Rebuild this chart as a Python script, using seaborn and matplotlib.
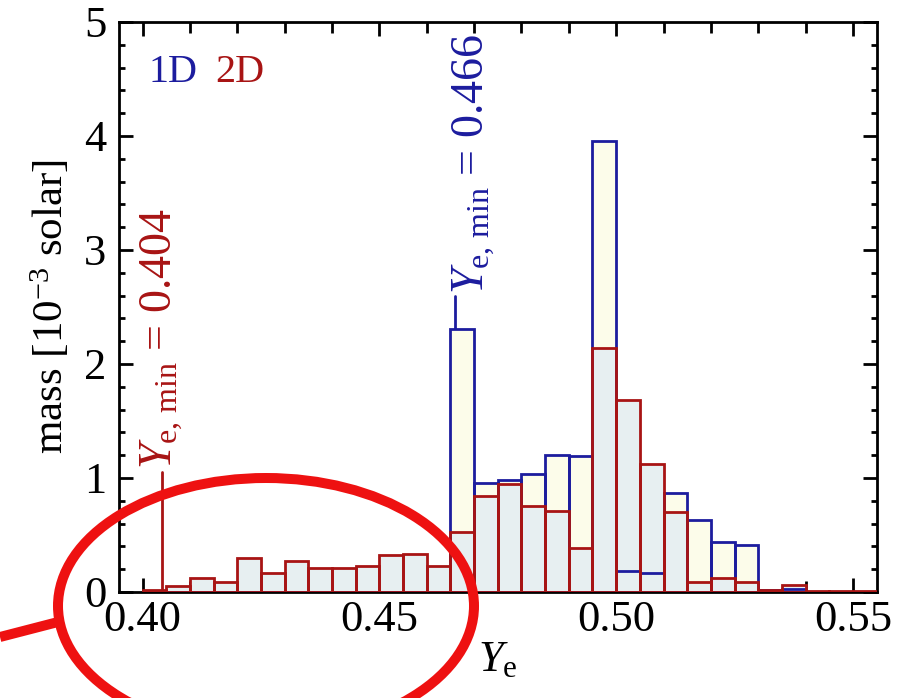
import numpy as np
import pandas as pd
import seaborn as sns
import matplotlib.pyplot as plt
from matplotlib.patches import Ellipse
from matplotlib.lines import Line2D
from matplotlib.ticker import MultipleLocator

# ---------------- data ----------------
bin_left = [0.400, 0.405, 0.410, 0.415, 0.420, 0.425, 0.430, 0.435, 0.440, 0.445,
            0.450, 0.455, 0.460, 0.465, 0.470, 0.475, 0.480, 0.485, 0.490, 0.495,
            0.500, 0.505, 0.510, 0.515, 0.520, 0.525, 0.530, 0.535, 0.540, 0.545,
            0.550]
bin_width = 0.005
mass_1d = [0.00, 0.00, 0.00, 0.00, 0.00, 0.00, 0.00, 0.00, 0.00, 0.00,
           0.00, 0.00, 0.00, 2.31, 0.96, 0.98, 1.035, 1.20, 1.19, 3.96,
           0.18, 0.17, 0.87, 0.63, 0.44, 0.41, 0.02, 0.03, 0.00, 0.00,
           0.00]
mass_2d = [0.02, 0.05, 0.12, 0.09, 0.30, 0.17, 0.27, 0.21, 0.21, 0.23,
           0.32, 0.33, 0.23, 0.53, 0.84, 0.95, 0.75, 0.71, 0.39, 2.14,
           1.68, 1.12, 0.70, 0.09, 0.12, 0.09, 0.02, 0.06, 0.01, 0.01,
           0.01]
ye_min_1d = 0.466
ye_min_2d = 0.404
xtick_vals = [0.40, 0.45, 0.50, 0.55]
xtick_labels = ["0.40", "0.45", "0.50", "0.55"]
ytick_vals = [0, 1, 2, 3, 4, 5]
ytick_labels = ["0", "1", "2", "3", "4", "5"]

BLUE = "#1c1c9e"
RED = "#a81414"

# ---------------- style ----------------
sns.set_theme(style="ticks")
plt.rcParams["font.family"] = ["Liberation Serif", "DejaVu Serif"]
plt.rcParams["mathtext.fontset"] = "custom"
plt.rcParams["mathtext.rm"] = "Liberation Serif"
plt.rcParams["mathtext.it"] = "Liberation Serif:italic"
plt.rcParams["mathtext.bf"] = "Liberation Serif:bold"
plt.rcParams["text.color"] = "black"
plt.rcParams["axes.labelcolor"] = "black"
plt.rcParams["xtick.color"] = "black"
plt.rcParams["ytick.color"] = "black"
plt.rcParams["xtick.labelcolor"] = "black"
plt.rcParams["ytick.labelcolor"] = "black"

fig = plt.figure(figsize=(9.08, 6.98), dpi=100)
ax = fig.add_axes([0.1311, 0.1519, 0.8348, 0.8166])

df = pd.DataFrame({
    "Ye": np.array(bin_left) + bin_width / 2,
    "m1d": mass_1d,
    "m2d": mass_2d,
})
n_bins = len(bin_left)
b_range = (bin_left[0], bin_left[-1] + bin_width)

# marker lines (behind the bars)
ax.plot([ye_min_2d, ye_min_2d], [0, 1.05], color=RED, lw=2, zorder=0.5)
ax.plot([ye_min_1d, ye_min_1d], [0, 2.60], color=BLUE, lw=2, zorder=0.5)

common = dict(data=df, x="Ye", bins=n_bins, binrange=b_range, ax=ax, element="bars")
# fills
sns.histplot(weights="m1d", fill=True, facecolor="#fcfcea", edgecolor="none",
             alpha=1, linewidth=0, zorder=1, **common)
sns.histplot(weights="m2d", fill=True, facecolor="#e7eff1", edgecolor="none",
             alpha=1, linewidth=0, zorder=2, **common)
# outlines
sns.histplot(weights="m1d", fill=False, color=BLUE, linewidth=2.0, zorder=3, **common)
sns.histplot(weights="m2d", fill=False, color=RED, linewidth=2.0, zorder=4, **common)

ax.set_xlim(0.395, 0.5551)
ax.set_ylim(0, 5)
ax.set_xticks(xtick_vals)
ax.set_xticklabels(xtick_labels)
ax.set_yticks(ytick_vals)
ax.set_yticklabels(ytick_labels)
ax.xaxis.set_minor_locator(MultipleLocator(0.01))
ax.yaxis.set_minor_locator(MultipleLocator(0.2))
ax.tick_params(axis="both", which="both", direction="in", top=True, right=True,
               color="black", labelcolor="black", width=2)
ax.tick_params(axis="x", which="major", length=10, pad=6, labelsize=32)
ax.tick_params(axis="x", which="minor", length=8)
ax.tick_params(axis="y", which="major", length=10, pad=9, labelsize=32)
ax.tick_params(axis="y", which="minor", length=4.5)
for s in ax.spines.values():
    s.set_linewidth(2)
    s.set_color("black")
ax.grid(False)

ax.set_xlabel(r"$Y_{\mathrm{e}}$", fontsize=32, labelpad=0, color="black")
ax.set_ylabel(r"mass [10$^{\mathrm{-3}}$ solar]", fontsize=31, labelpad=9, color="black")

ax.text(0.0383, 0.8947, "1D", color=BLUE, fontsize=29, transform=ax.transAxes,
        ha="left", va="baseline")
ax.text(0.1266, 0.8947, "2D", color=RED, fontsize=29, transform=ax.transAxes,
        ha="left", va="baseline")

ax.text(0.3990, 1.08, r"$Y_{\mathrm{e,\,min}}$ = 0.404", color=RED, fontsize=33,
        rotation=90, ha="left", va="bottom", zorder=5)
ax.text(0.4649, 2.61, r"$Y_{\mathrm{e,\,min}}$ = 0.466", color=BLUE, fontsize=33,
        rotation=90, ha="left", va="bottom", zorder=5)

# red highlight ellipse and pointer line (figure pixel coordinates)
W, H = 908.0, 698.0
ell = Ellipse((266 / W, 1 - 606 / H), 416 / W, 256 / H, fill=False,
              edgecolor="#ee1111", linewidth=7.2, transform=fig.transFigure,
              clip_on=False, zorder=10)
fig.add_artist(ell)
ln = Line2D([0 / W, 58 / W], [1 - 637 / H, 1 - 622 / H], color="#ee1111",
            linewidth=7.2, transform=fig.transFigure, solid_capstyle="butt",
            zorder=10)
fig.add_artist(ln)

fig.savefig("out.png", dpi=100)
